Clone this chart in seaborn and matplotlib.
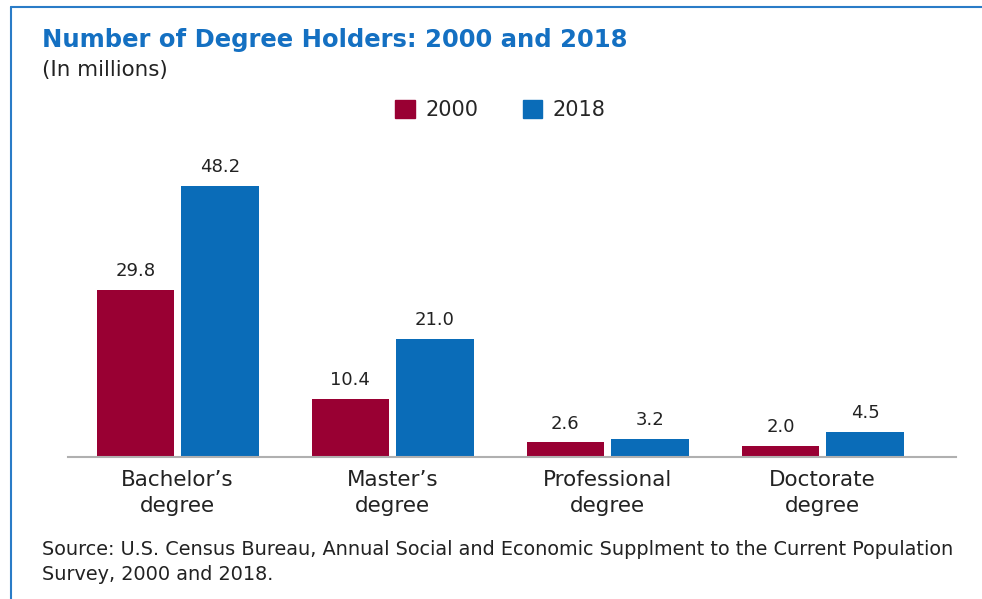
import matplotlib
matplotlib.use("Agg")
import matplotlib.pyplot as plt
import seaborn as sns
import pandas as pd
from matplotlib.lines import Line2D

categories = ["Bachelor\u2019s\ndegree", "Master\u2019s\ndegree", "Professional\ndegree", "Doctorate\ndegree"]
years = ["2000", "2018"]
values_2000 = [29.8, 10.4, 2.6, 2.0]
values_2018 = [48.2, 21.0, 3.2, 4.5]

df = pd.DataFrame({
    "category": categories * 2,
    "year": [years[0]] * 4 + [years[1]] * 4,
    "value": values_2000 + values_2018,
})

sns.set_theme(style="white")
plt.rcParams["font.family"] = ["DejaVu Sans"]

W, H = 982, 599
fig = plt.figure(figsize=(W / 100, H / 100), dpi=100)
ax = fig.add_axes([68 / W, 1 - 457 / H, (956 - 68) / W, (457 - 176) / H])

palette = {"2000": "#990033", "2018": "#0a6cb8"}
sns.barplot(data=df, x="category", y="value", hue="year", palette=palette,
            width=0.786, gap=0.083, ax=ax, legend=False, saturation=1, linewidth=0)

for c in ax.containers:
    ax.bar_label(c, fmt="%.1f", padding=7, fontsize=13, color="#222222")

ax.set_xlim(-0.51, 3.62)
ax.set_ylim(0, 50)
ax.set_xlabel("")
ax.set_ylabel("")
ax.set_yticks([])
ax.tick_params(axis="x", length=0, labelsize=15.5, pad=9, colors="#222222")
for lab in ax.get_xticklabels():
    lab.set_linespacing(1.4)
for s in ["top", "right", "left"]:
    ax.spines[s].set_visible(False)
ax.spines["bottom"].set_color("#b0b0b0")
ax.spines["bottom"].set_linewidth(1.5)

handles = [plt.Rectangle((0, 0), 1, 1, color=palette[y]) for y in years]
fig.legend(handles, years, loc="center", bbox_to_anchor=(500.5 / W, 1 - 110 / H),
           ncol=2, frameon=False, fontsize=15, handlelength=0.95, handleheight=0.95,
           handletextpad=0.5, columnspacing=2.12)

fig.text(42 / W, 1 - 40 / H, "Number of Degree Holders: 2000 and 2018", fontsize=17.5,
         fontweight="bold", color="#1470c2", va="center", ha="left")
fig.text(42 / W, 1 - 70 / H, "(In millions)", fontsize=15.4, color="#222222", va="center", ha="left")
fig.text(42 / W, 1 - 562 / H,
         "Source: U.S. Census Bureau, Annual Social and Economic Supplment to the Current Population\nSurvey, 2000 and 2018.",
         fontsize=13.9, color="#222222", va="center", ha="left", linespacing=1.38)

# frame lines
fig.add_artist(Line2D([11 / W, 1], [1 - 7 / H, 1 - 7 / H], color="#2a7cc7", lw=1.5, transform=fig.transFigure))
fig.add_artist(Line2D([11 / W, 11 / W], [0, 1 - 7 / H], color="#2a7cc7", lw=1.5, transform=fig.transFigure))

fig.savefig("out.png", dpi=100, facecolor="white")
